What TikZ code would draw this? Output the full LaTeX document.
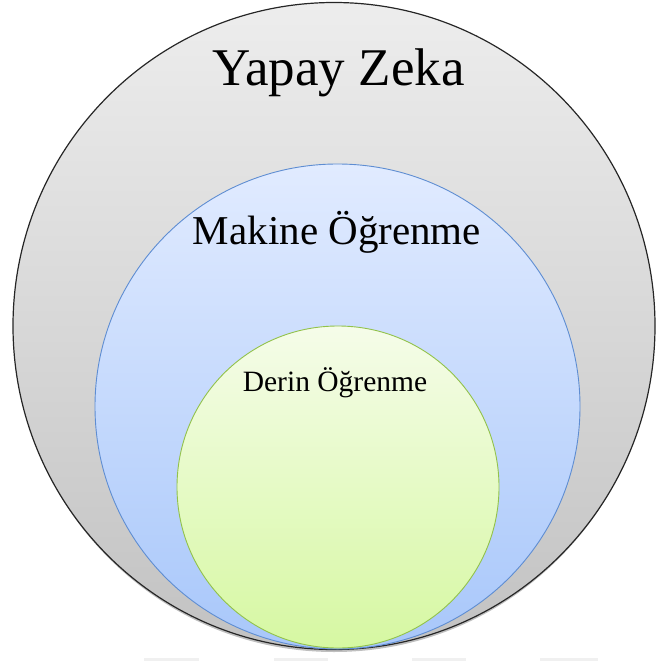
\documentclass[tikz,border=0pt]{standalone}
\usepackage{fontspec}
\setmainfont{Liberation Serif}
\begin{document}
\begin{tikzpicture}[x=1pt,y=-1pt,
  ringAI/.style={draw=black!85,line width=1.2pt,top color=grayTop,bottom color=grayBot},
  ringML/.style={draw=blueEdge,line width=0.9pt,top color=blueTop,bottom color=blueBot},
  ringDL/.style={draw=greenEdge,line width=0.9pt,top color=greenTop,bottom color=greenBot},
  lbl/.style={anchor=base,inner sep=0pt,text=black},
  refl/.style={fill=black!6,draw=none}]
\definecolor{grayTop}{HTML}{EDEDED}
\definecolor{grayBot}{HTML}{C2C2C2}
\definecolor{blueTop}{HTML}{E1EBFF}
\definecolor{blueBot}{HTML}{A8C7FA}
\definecolor{blueEdge}{HTML}{5E8DD2}
\definecolor{greenTop}{HTML}{F5FCE9}
\definecolor{greenBot}{HTML}{D6F8A2}
\definecolor{greenEdge}{HTML}{92C24A}
\useasboundingbox (0,0) rectangle (656,661);
% faint reflection strips
\path[refl] (144,658) rectangle (199,661);
\path[refl] (274,658) rectangle (328,661);
\path[refl] (412,658) rectangle (466,661);
\path[refl] (540,658) rectangle (598,661);
% soft shadow under the outer circle
\fill[black!25] (334,328) ellipse [x radius=320, y radius=324];
% circles
\path[ringAI] (334,326) ellipse [x radius=321, y radius=323.5];
\path[ringML] (337.5,406.5) circle [radius=242.5];
\path[ringDL] (338,487) circle [radius=161];
% labels
\node[lbl,font=\fontsize{53}{60}\selectfont] (ai) at (338.5,85) {Yapay Zeka};
\node[lbl,font=\fontsize{41}{48}\selectfont] (ml) at (337,244) {Makine Öğrenme};
\node[lbl,font=\fontsize{29.5}{35}\selectfont] (dl) at (335,391) {Derin Öğrenme};
\end{tikzpicture}
\end{document}
